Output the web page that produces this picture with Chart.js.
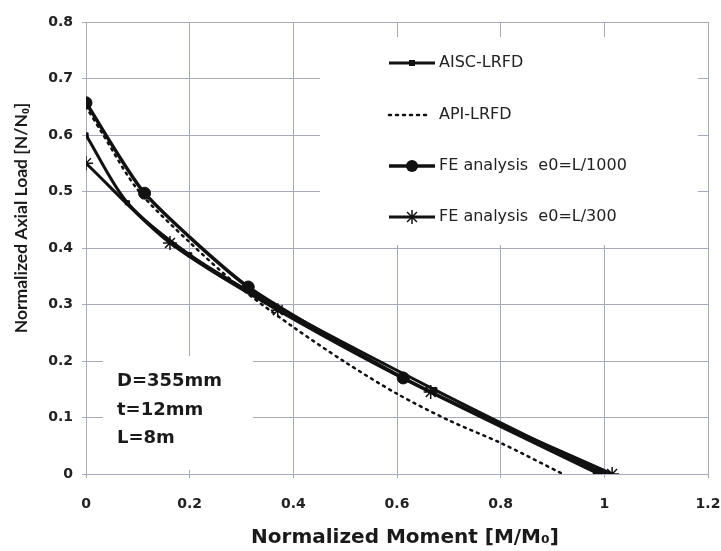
<!DOCTYPE html>
<html>
<head>
<meta charset="utf-8">
<script src="https://cdn.jsdelivr.net/npm/chart.js@4/dist/chart.umd.min.js"></script>
<style>
  html, body { margin: 0; padding: 0; background: #ffffff; }
  canvas { display: block; }
</style>
</head>
<body>
<canvas id="c" width="721" height="551"></canvas>
<script>
// ---------------- data ----------------
const xTickValues = [0, 0.2, 0.4, 0.6, 0.8, 1, 1.2];
const yTickValues = [0, 0.1, 0.2, 0.3, 0.4, 0.5, 0.6, 0.7, 0.8];

const xAxisTitle = 'Normalized Moment [M/M\u2080]';
const yAxisTitle = 'Normalized Axial Load [N/N\u2080]';

const seriesNames = ['AISC-LRFD', 'API-LRFD', 'FE analysis  e0=L/1000', 'FE analysis  e0=L/300'];

const aiscM = [0, 0.08, 0.2, 0.36, 0.673, 1.0];
const aiscN = [0.6, 0.48, 0.388, 0.30, 0.149, 0];

const apiM = [0, 0.03, 0.1, 0.2, 0.3, 0.4, 0.5, 0.6, 0.7, 0.8, 0.92];
const apiN = [0.65, 0.605, 0.503, 0.41, 0.328, 0.26, 0.198, 0.142, 0.095, 0.055, 0];

const fe1000M = [0, 0.113, 0.313, 0.612, 0.99];
const fe1000N = [0.657, 0.497, 0.331, 0.17, 0];

const fe300M = [0, 0.162, 0.37, 0.665, 1.015];
const fe300N = [0.55, 0.409, 0.29, 0.145, 0];

const infoLines = ['D=355mm', 't=12mm', 'L=8m'];

// ---------------- helpers ----------------
const zip = (xs, ys) => xs.map((x, i) => ({ x: x, y: ys[i] }));
const INK = '#111111';
const GRID = '#a6aabc';

const datasets = [
  {
    label: seriesNames[0], data: zip(aiscM, aiscN),
    borderColor: INK, backgroundColor: INK, borderWidth: 3,
    pointStyle: 'rect', pointRadius: 3, pointBorderWidth: 1, tension: 0.3
  },
  {
    label: seriesNames[1], data: zip(apiM, apiN),
    borderColor: INK, backgroundColor: INK, borderWidth: 2.5,
    borderDash: [2, 5], borderCapStyle: 'round',
    pointRadius: 0, tension: 0.3
  },
  {
    label: seriesNames[2], data: zip(fe1000M, fe1000N),
    borderColor: INK, backgroundColor: INK, borderWidth: 3.5,
    pointStyle: 'circle', pointRadius: 6, pointBorderWidth: 1, tension: 0.2
  },
  {
    label: seriesNames[3], data: zip(fe300M, fe300N),
    borderColor: INK, backgroundColor: INK, borderWidth: 3,
    pointStyle: 'star', pointRadius: 7, pointBorderWidth: 1.5, tension: 0.3
  }
];

function drawMarker(ctx, style, x, y, r, lw) {
  ctx.save();
  ctx.fillStyle = INK; ctx.strokeStyle = INK; ctx.lineWidth = lw;
  if (style === 'circle') {
    ctx.beginPath(); ctx.arc(x, y, r, 0, Math.PI * 2); ctx.fill();
  } else if (style === 'rect') {
    ctx.fillRect(x - r, y - r, 2 * r, 2 * r);
  } else if (style === 'star') {
    ctx.beginPath();
    for (let k = 0; k < 4; k++) {
      const a = k * Math.PI / 4;
      ctx.moveTo(x - Math.cos(a) * r, y - Math.sin(a) * r);
      ctx.lineTo(x + Math.cos(a) * r, y + Math.sin(a) * r);
    }
    ctx.stroke();
  }
  ctx.restore();
}

const overlayPlugin = {
  id: 'overlay',
  beforeDatasetsDraw(chart) {
    const ctx = chart.ctx;
    ctx.save();
    ctx.fillStyle = '#ffffff';
    ctx.fillRect(320, 37, 378, 208);
    ctx.fillRect(103, 356, 150, 114);

    const rows = [63, 115, 166, 217];
    const x0 = 389, x1 = 435;
    datasets.forEach((ds, i) => {
      const y = rows[i];
      ctx.save();
      ctx.strokeStyle = INK;
      ctx.lineWidth = ds.borderWidth;
      if (ds.borderDash) { ctx.setLineDash(ds.borderDash); ctx.lineCap = 'round'; }
      ctx.beginPath(); ctx.moveTo(x0, y); ctx.lineTo(ds.borderDash ? x1 - 4 : x1, y); ctx.stroke();
      ctx.restore();
      if (ds.pointRadius > 0) drawMarker(ctx, ds.pointStyle, (x0 + x1) / 2, y, ds.pointRadius, ds.pointBorderWidth);
      ctx.fillStyle = '#222222';
      ctx.font = '16px "DejaVu Sans"';
      ctx.textAlign = 'left'; ctx.textBaseline = 'middle';
      ctx.fillText(ds.label, 439, y);
    });

    ctx.fillStyle = '#1a1a1a';
    ctx.font = 'bold 18px "DejaVu Sans"';
    ctx.textAlign = 'left'; ctx.textBaseline = 'middle';
    const infoY = [381, 410, 438];
    infoLines.forEach((t, i) => ctx.fillText(t, 117, infoY[i]));
    ctx.restore();
  },
  afterDraw(chart) {
    const ctx = chart.ctx;
    ctx.save();
    ctx.fillStyle = '#1a1a1a';
    ctx.textAlign = 'center'; ctx.textBaseline = 'middle';
    ctx.font = 'bold 20px "DejaVu Sans"';
    ctx.fillText(xAxisTitle, 405, 538);
    ctx.translate(21, 218);
    ctx.rotate(-Math.PI / 2);
    ctx.font = 'bold 17.5px Lato';
    ctx.fillText(yAxisTitle, 0, 0);
    ctx.restore();
  }
};

const bgPlugin = {
  id: 'bg',
  beforeDraw(chart) {
    const ctx = chart.ctx;
    ctx.save(); ctx.fillStyle = '#ffffff';
    ctx.fillRect(0, 0, chart.width, chart.height); ctx.restore();
  }
};

const tickFont = { family: 'DejaVu Sans', weight: 'bold', size: 14 };

new Chart(document.getElementById('c'), {
  type: 'scatter',
  data: { datasets: datasets },
  plugins: [bgPlugin, overlayPlugin],
  options: {
    responsive: false,
    animation: false,
    devicePixelRatio: 1,
    showLine: true,
    layout: { padding: { top: 22, right: 13, left: 0, bottom: 0 } },
    plugins: { legend: { display: false }, tooltip: { enabled: false } },
    scales: {
      x: {
        type: 'linear', min: 0, max: 1.2,
        afterBuildTicks: s => { s.ticks = xTickValues.map(v => ({ value: v })); },
        afterFit: s => { s.height = 77; s.paddingRight = 0; s.paddingLeft = 0; },
        ticks: { font: tickFont, color: '#222222', padding: 18, maxRotation: 0, callback: v => String(v) },
        grid: { color: GRID, lineWidth: 1, tickLength: 4 },
        border: { color: GRID, width: 1 }
      },
      y: {
        type: 'linear', min: 0, max: 0.8,
        afterBuildTicks: s => { s.ticks = yTickValues.map(v => ({ value: v })); },
        afterFit: s => { s.width = 86; s.paddingTop = 0; s.paddingBottom = 0; },
        ticks: { font: tickFont, color: '#222222', padding: 9, callback: v => String(v) },
        grid: { color: GRID, lineWidth: 1, tickLength: 4 },
        border: { color: GRID, width: 1 }
      }
    }
  }
});
</script>
</body>
</html>
